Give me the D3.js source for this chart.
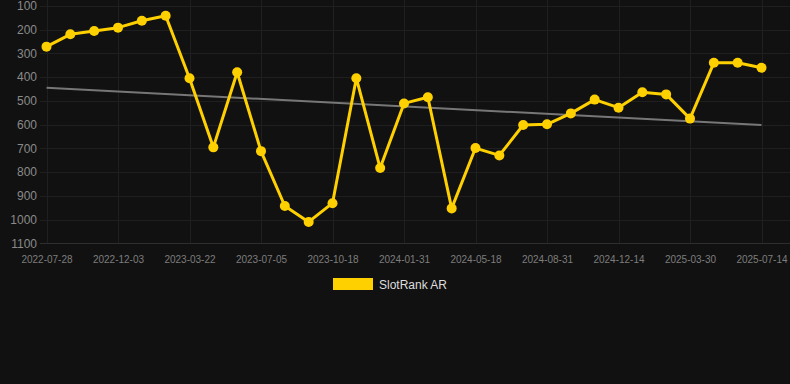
<!DOCTYPE html>
<html>
<head>
<meta charset="utf-8">
<script src="https://cdn.jsdelivr.net/npm/d3@7"></script>
<style>
  html, body { margin: 0; padding: 0; background: #111111; }
  svg { display: block; font-family: "Liberation Sans", Arial, sans-serif; }
</style>
</head>
<body>
<div id="chart"></div>
<script>
// dates on the x axis (only every third one is labelled)
const dates = [
    "2022-07-28", "2022-09-09", "2022-10-22", "2022-12-03", "2023-01-08", "2023-02-13",
    "2023-03-22", "2023-04-26", "2023-05-31", "2023-07-05", "2023-08-09", "2023-09-13",
    "2023-10-18", "2023-11-22", "2023-12-27", "2024-01-31", "2024-03-06", "2024-04-12",
    "2024-05-18", "2024-06-22", "2024-07-27", "2024-08-31", "2024-10-05", "2024-11-09",
    "2024-12-14", "2025-01-18", "2025-02-22", "2025-03-30", "2025-05-04", "2025-06-08",
    "2025-07-14"
];
// SlotRank AR values
const ranks = [
    272, 220, 206, 192, 163, 142, 405, 696, 380, 712,
    943, 1010, 931, 405, 783, 511, 485, 953, 699, 730,
    602, 599, 553, 495, 529, 464, 473, 575, 340, 340,
    361
];
// trend line, value at first and last date
const trend = [445, 602];
const yTicks = [100, 200, 300, 400, 500, 600, 700, 800, 900, 1000, 1100];
const seriesName = "SlotRank AR";

const width = 790, height = 384;
const gridLeft = 40, gridRight = 790;

const svg = d3.select("#chart")
    .append("svg")
    .attr("width", width)
    .attr("height", height);

svg.append("rect")
    .attr("width", width)
    .attr("height", height)
    .attr("fill", "#111111");

const x = d3.scalePoint()
    .domain(dates)
    .range([46.5, 761.5]);

const y = d3.scaleLinear()
    .domain([100, 1100])
    .range([5.8, 243.3]);

// horizontal grid
svg.append("g")
    .selectAll("line")
    .data(yTicks)
    .enter()
    .append("line")
    .attr("x1", gridLeft)
    .attr("x2", gridRight)
    .attr("y1", (d) => Math.round(y(d)) + 0.5)
    .attr("y2", (d) => Math.round(y(d)) + 0.5)
    .attr("stroke", (d) => d === 1100 ? "#2e2e2e" : "#1f1f1f")
    .attr("stroke-width", 1);

// vertical grid at labelled dates
const labelled = dates.filter((d, i) => i % 3 === 0);
svg.append("g")
    .selectAll("line")
    .data(labelled)
    .enter()
    .append("line")
    .attr("x1", (d) => Math.round(x(d)) + 0.5)
    .attr("x2", (d) => Math.round(x(d)) + 0.5)
    .attr("y1", 0)
    .attr("y2", Math.round(y(1100)))
    .attr("stroke", "#1f1f1f")
    .attr("stroke-width", 1);

// y axis labels
const yAxis = svg.append("g")
    .attr("transform", "translate(37,0)")
    .call(d3.axisLeft(y).tickValues(yTicks).tickFormat(d3.format("d")).tickSize(0).tickPadding(0));
yAxis.select(".domain").remove();
yAxis.selectAll("text")
    .attr("fill", "#8a8a8a")
    .attr("font-size", "12px")
    .attr("font-family", "Liberation Sans, Arial, sans-serif");

// x axis labels
const xAxis = svg.append("g")
    .attr("transform", `translate(0, ${y(1100) + 13})`)
    .call(d3.axisBottom(x).tickValues(labelled).tickSize(0).tickPadding(0));
xAxis.select(".domain").remove();
xAxis.selectAll("text")
    .attr("fill", "#7d7d7d")
    .attr("font-size", "10px")
    .attr("font-family", "Liberation Sans, Arial, sans-serif");

// trend line
svg.append("line")
    .attr("x1", x(dates[0]))
    .attr("x2", x(dates[dates.length - 1]))
    .attr("y1", y(trend[0]))
    .attr("y2", y(trend[1]))
    .attr("stroke", "#777777")
    .attr("stroke-width", 2);

// series line
const data = dates.map((d, i) => ({date: d, value: ranks[i]}));
svg.append("path")
    .datum(data)
    .attr("fill", "none")
    .attr("stroke", "#FFD000")
    .attr("stroke-width", 3)
    .attr("stroke-linejoin", "round")
    .attr("d", d3.line().x((d) => x(d.date)).y((d) => y(d.value)));

svg.append("g")
    .selectAll("circle")
    .data(data)
    .enter()
    .append("circle")
    .attr("cx", (d) => x(d.date))
    .attr("cy", (d) => y(d.value))
    .attr("r", 5)
    .attr("fill", "#FFD000");

// legend
const legend = svg.append("g").attr("transform", "translate(333, 278)");
legend.append("rect")
    .attr("width", 40)
    .attr("height", 12)
    .attr("fill", "#FFD000");
legend.append("text")
    .attr("x", 46)
    .attr("y", 10.5)
    .attr("fill", "#dddddd")
    .attr("font-size", "12px")
    .text(seriesName);
</script>
</body>
</html>
